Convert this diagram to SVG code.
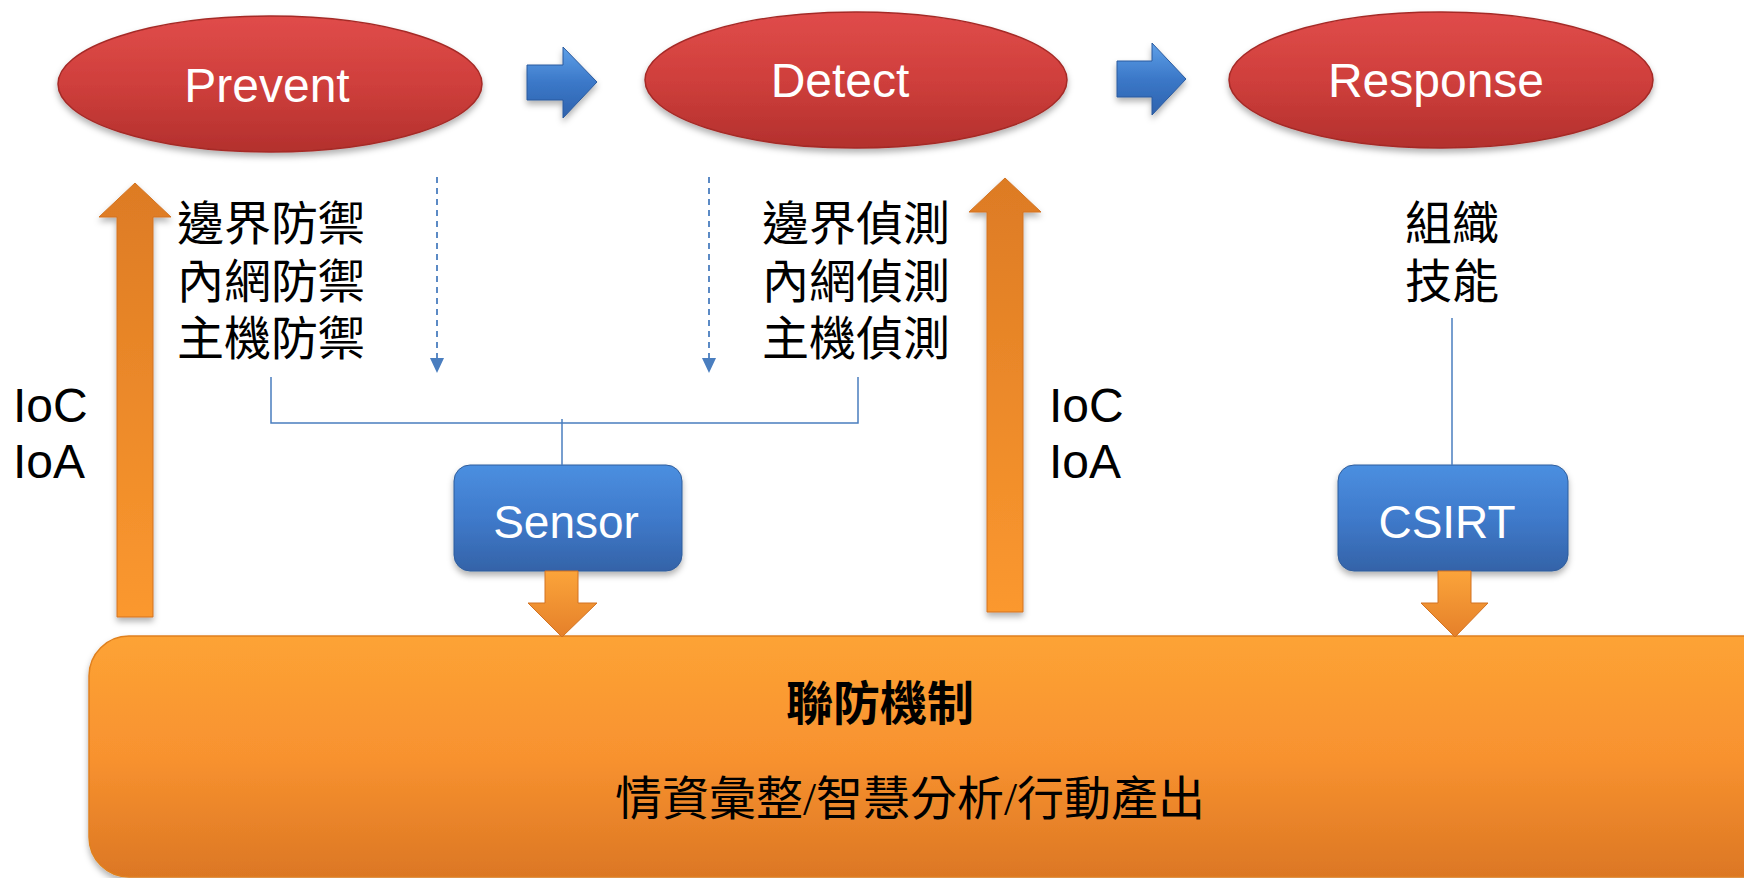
<svg xmlns="http://www.w3.org/2000/svg" width="1744" height="878" viewBox="0 0 1744 878">
<defs>
  <linearGradient id="gRed" x1="0" y1="0" x2="0" y2="1">
    <stop offset="0" stop-color="#e04c4a"/>
    <stop offset="0.5" stop-color="#cf3f3c"/>
    <stop offset="1" stop-color="#b3302d"/>
  </linearGradient>
  <linearGradient id="gBlue" x1="0" y1="0" x2="0" y2="1">
    <stop offset="0" stop-color="#4b8fe0"/>
    <stop offset="0.5" stop-color="#3f7acb"/>
    <stop offset="1" stop-color="#3463a8"/>
  </linearGradient>
  <linearGradient id="gBlueArr" x1="0" y1="0" x2="0" y2="1">
    <stop offset="0" stop-color="#5fa0e8"/>
    <stop offset="0.5" stop-color="#3b78c8"/>
    <stop offset="1" stop-color="#2e62ad"/>
  </linearGradient>
  <linearGradient id="gOrangeUp" x1="0" y1="0" x2="0" y2="1">
    <stop offset="0" stop-color="#dd7b24"/>
    <stop offset="1" stop-color="#fb982f"/>
  </linearGradient>
  <linearGradient id="gOrangeDown" x1="0" y1="0" x2="0" y2="1">
    <stop offset="0" stop-color="#fba43a"/>
    <stop offset="1" stop-color="#e5802a"/>
  </linearGradient>
  <linearGradient id="gOrangeBox" x1="0" y1="0" x2="0" y2="1">
    <stop offset="0" stop-color="#fda335"/>
    <stop offset="0.5" stop-color="#f8922f"/>
    <stop offset="1" stop-color="#dc7724"/>
  </linearGradient>
  <filter id="shadow" x="-10%" y="-10%" width="120%" height="130%">
    <feDropShadow dx="0" dy="4" stdDeviation="3" flood-color="#000" flood-opacity="0.3"/>
  </filter>
  <marker id="tri" viewBox="0 0 15 14" refX="15" refY="7" markerWidth="15" markerHeight="14" markerUnits="userSpaceOnUse" orient="auto">
    <path d="M0,0 L15,7 L0,14 Z" fill="#4a7ebf"/>
  </marker>
  <style>
    .ell { fill: url(#gRed); stroke: #a52b28; stroke-width: 1.5; filter: url(#shadow); }
    .box { fill: url(#gBlue); stroke: #2f5d9c; stroke-width: 1; filter: url(#shadow); }
    .lbl { font-family: "Liberation Sans", Arial, sans-serif; fill: #fff; text-anchor: middle; }
    .ioc { font-family: "Liberation Sans", Arial, sans-serif; fill: #000; font-size: 48px; }
    .cjk { font-family: "Liberation Serif", "Noto Sans CJK TC", sans-serif; fill: #000; font-size: 47px; }
    .line { stroke: #4a7ebf; stroke-width: 1.5; fill: none; }
    .dash { stroke: #4a7ebf; stroke-width: 1.8; stroke-dasharray: 6 5; fill: none; }
  </style>
</defs>
<rect width="1744" height="878" fill="#fff"/>

<g id="federation">
  <rect x="89" y="636" width="1700" height="241" rx="40" ry="40" fill="url(#gOrangeBox)" stroke="#e0801f" stroke-width="1.5" filter="url(#shadow)"/>
  <text x="880" y="720" class="cjk" text-anchor="middle" font-weight="bold" font-size="46px">聯防機制</text>
  <text x="910" y="815" class="cjk" text-anchor="middle" font-size="47px">情資彙整/智慧分析/行動產出</text>
</g>

<g id="prevent">
  <ellipse cx="270" cy="84" rx="212" ry="68" class="ell"/>
  <text x="267" y="102" class="lbl" font-size="48">Prevent</text>
</g>
<g id="detect">
  <ellipse cx="856" cy="80" rx="211" ry="68" class="ell"/>
  <text x="840" y="97" class="lbl" font-size="48">Detect</text>
</g>
<g id="response">
  <ellipse cx="1441" cy="80" rx="212" ry="68" class="ell"/>
  <text x="1436" y="97" class="lbl" font-size="48">Response</text>
</g>

<g id="prevent-items">
  <text class="cjk" x="177" y="240">邊界防禦</text>
  <text class="cjk" x="177" y="298">內網防禦</text>
  <text class="cjk" x="177" y="355">主機防禦</text>
</g>
<g id="detect-items">
  <text class="cjk" x="762" y="240">邊界偵測</text>
  <text class="cjk" x="762" y="298">內網偵測</text>
  <text class="cjk" x="762" y="355">主機偵測</text>
</g>
<g id="response-items">
  <text class="cjk" x="1405" y="240">組織</text>
  <text class="cjk" x="1405" y="298">技能</text>
</g>

<g id="ioc-left">
  <text class="ioc" x="13" y="422">IoC</text>
  <text class="ioc" x="13" y="478">IoA</text>
</g>
<g id="ioc-right">
  <text class="ioc" x="1049" y="422">IoC</text>
  <text class="ioc" x="1049" y="478">IoA</text>
</g>

<g id="sensor">
  <rect x="454" y="465" width="228" height="106" rx="16" ry="16" class="box"/>
  <text x="566" y="538" class="lbl" font-size="46">Sensor</text>
</g>
<g id="csirt">
  <rect x="1338" y="465" width="230" height="106" rx="16" ry="16" class="box"/>
  <text x="1447" y="538" class="lbl" font-size="46">CSIRT</text>
</g>

<g id="connectors">
  <!-- blue flow arrows -->
  <path d="M527,65 L563,65 L563,47 L597,82 L563,118 L563,100 L527,100 Z" fill="url(#gBlueArr)" stroke="#2a5a9e" stroke-width="1" filter="url(#shadow)"/>
  <path d="M1117,61 L1152,61 L1152,43 L1186,79 L1152,115 L1152,97 L1117,97 Z" fill="url(#gBlueArr)" stroke="#2a5a9e" stroke-width="1" filter="url(#shadow)"/>
  <!-- orange up arrows -->
  <path d="M117,617 L117,217 L99,217 L135,183 L171,217 L153,217 L153,617 Z" fill="url(#gOrangeUp)" stroke="#d27322" stroke-width="1" filter="url(#shadow)"/>
  <path d="M987,612 L987,212 L969,212 L1005,178 L1041,212 L1023,212 L1023,612 Z" fill="url(#gOrangeUp)" stroke="#d27322" stroke-width="1" filter="url(#shadow)"/>
  <!-- orange down arrows -->
  <path d="M545,571 L578,571 L578,603 L597,603 L562,637 L528,603 L545,603 Z" fill="url(#gOrangeDown)" stroke="#d27322" stroke-width="1"/>
  <path d="M1438,571 L1471,571 L1471,603 L1488,603 L1455,637 L1421,603 L1438,603 Z" fill="url(#gOrangeDown)" stroke="#d27322" stroke-width="1"/>
  <!-- dashed arrows -->
  <line x1="437" y1="177" x2="437" y2="373" class="dash" marker-end="url(#tri)"/>
  <line x1="709" y1="177" x2="709" y2="373" class="dash" marker-end="url(#tri)"/>
  <!-- bracket to sensor -->
  <path d="M271,377 L271,423 L858,423 L858,377" class="line"/>
  <line x1="562" y1="419" x2="562" y2="465" class="line"/>
  <!-- skill line to CSIRT -->
  <line x1="1452" y1="318" x2="1452" y2="465" class="line"/>
</g>
</svg>
